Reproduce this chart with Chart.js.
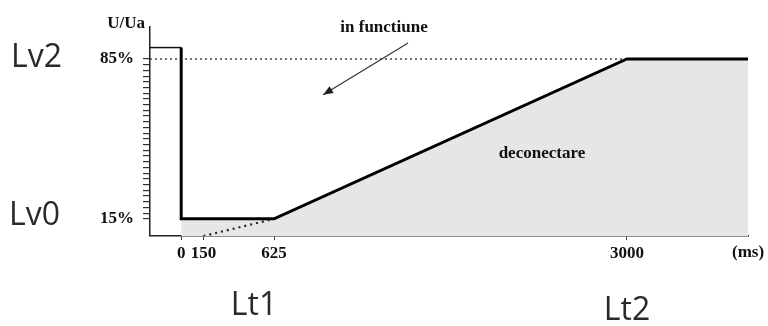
<!DOCTYPE html>
<html>
<head>
<meta charset="utf-8">
<script src="https://cdn.jsdelivr.net/npm/chart.js@4"></script>
<style>
  html, body { margin: 0; padding: 0; background: #fff; }
  #wrap { width: 768px; height: 326px; position: relative; }
</style>
</head>
<body>
<div id="wrap"><canvas id="graph" width="768" height="326"></canvas></div>
<script>
// axis range (ms and % of U/Un)
const xMin = -210, xMax = 3815;
const yMin = 7.5, yMax = 99;

// tick values
const timeTicks = [0, 150, 625, 3000];
const levelTicks = [15, 85];
const levelStep = 2.5;

// voltage before the dip (thin segment from the axis)
const beforeX = [xMin, 0];
const beforeY = [90, 90];

// main characteristic
const curveX = [0, 0, 625, 3000, xMax];
const curveY = [90, 15, 15, 85, 85];

// grey "deconectare" area below the curve
const areaX = [0, 625, 3000, xMax];
const areaY = [15, 15, 85, 85];

// dotted 85% reference
const refX = [xMin, 3000];
const refY = [85, 85];

// dotted extension of the ramp down to the axis
const extX = [150, 625];
const extY = [yMin, 15];

// arrow pointing into the "in functiune" region
const arrowX = [1527, 955];
const arrowY = [92, 69.3];

// text notes in data units
const notes = [
    { text: "in functiune", x: 1365, y: 98.6 },
    { text: "deconectare", x: 2428, y: 43.5 }
];

function pts(xs, ys) {
    return xs.map((x, i) => ({ x: x, y: ys[i] }));
}

const serif = '"Liberation Serif", "DejaVu Serif", serif';

//drawing the labels, arrow head and the Lv/Lt names
const extras = {
    id: 'extras',
    afterDraw(chart) {
        const ctx = chart.ctx;
        const xs = chart.scales.x, ys = chart.scales.y;
        ctx.save();

        // arrow head
        const meta = chart.getDatasetMeta(5);
        const p0 = meta.data[0], p1 = meta.data[1];
        const ang = Math.atan2(p1.y - p0.y, p1.x - p0.x);
        ctx.fillStyle = '#222';
        ctx.beginPath();
        ctx.moveTo(p1.x, p1.y);
        ctx.lineTo(p1.x - 10 * Math.cos(ang) + 4 * Math.sin(ang), p1.y - 10 * Math.sin(ang) - 4 * Math.cos(ang));
        ctx.lineTo(p1.x - 10 * Math.cos(ang) - 4 * Math.sin(ang), p1.y - 10 * Math.sin(ang) + 4 * Math.cos(ang));
        ctx.closePath();
        ctx.fill();

        // notes inside the plot
        ctx.fillStyle = '#111';
        ctx.font = 'bold 17px ' + serif;
        ctx.textAlign = 'center';
        ctx.textBaseline = 'middle';
        notes.forEach(n => {
            ctx.fillText(n.text, xs.getPixelForValue(n.x), ys.getPixelForValue(n.y));
        });

        // axis names
        ctx.textAlign = 'right';
        ctx.fillText('U/Ua', xs.left - 5, ys.top - 3);
        ctx.textAlign = 'left';
        ctx.fillText('(ms)', xs.right - 16, xs.top + 17);

        // level / time names
        ctx.fillStyle = '#2a2a2a';
        ctx.font = '32px "Open Sans", sans-serif';
        ctx.textAlign = 'left';
        ctx.fillText('Lv2', 11, ys.getPixelForValue(levelTicks[1]) - 1);
        ctx.fillText('Lv0', 9, ys.getPixelForValue(levelTicks[0]) - 3);
        ctx.textAlign = 'center';
        ctx.fillText('Lt1', 254, 306);
        ctx.fillText('Lt2', 627, 311);
        ctx.restore();
    }
};

const ctx = document.getElementById('graph').getContext('2d');
new Chart(ctx, {
    type: 'scatter',
    data: {
        datasets: [
            { data: pts(areaX, areaY), showLine: true, fill: 'start', backgroundColor: '#e6e6e6', borderWidth: 0, pointRadius: 0, order: 5 },
            { data: pts(refX, refY), showLine: true, borderColor: '#444', borderWidth: 1.3, borderDash: [2, 3], pointRadius: 0, order: 4 },
            { data: pts(extX, extY), showLine: true, borderColor: '#222', borderWidth: 2.2, borderDash: [2, 4], pointRadius: 0, order: 3 },
            { data: pts(beforeX, beforeY), showLine: true, borderColor: '#111', borderWidth: 1.5, pointRadius: 0, order: 2 },
            { data: pts(curveX, curveY), showLine: true, borderColor: '#000', borderWidth: 3, pointRadius: 0, order: 1 },
            { data: pts(arrowX, arrowY), showLine: true, borderColor: '#333', borderWidth: 1.2, pointRadius: 0, order: 0 }
        ]
    },
    options: {
        responsive: false,
        animation: false,
        layout: { padding: { top: 27, right: 20, left: 0, bottom: 0 } },
        plugins: { legend: { display: false }, tooltip: { enabled: false } },
        elements: { line: { tension: 0 } },
        scales: {
            x: {
                type: 'linear',
                min: xMin,
                max: xMax,
                afterBuildTicks: s => { s.ticks = timeTicks.map(v => ({ value: v })); },
                afterFit: s => { s.height = 90; },
                border: { color: '#222', width: 1.5 },
                grid: { drawOnChartArea: false, drawTicks: true, tickLength: 4, color: '#444' },
                ticks: {
                    autoSkip: false,
                    maxRotation: 0,
                    padding: 3,
                    color: '#111',
                    font: { family: serif, size: 17, weight: 'bold' },
                    callback: v => String(v)
                }
            },
            y: {
                type: 'linear',
                min: yMin,
                max: yMax,
                afterBuildTicks: s => {
                    const list = [];
                    for (let v = levelTicks[0]; v <= levelTicks[1]; v += levelStep) list.push({ value: v });
                    s.ticks = list;
                },
                afterFit: s => { s.width = 150; },
                border: { color: '#222', width: 1.5 },
                grid: { drawOnChartArea: false, drawTicks: true, tickLength: 7, color: '#333', lineWidth: 1.2 },
                ticks: {
                    autoSkip: false,
                    padding: 9,
                    color: '#111',
                    font: { family: serif, size: 17, weight: 'bold' },
                    callback: v => (levelTicks.includes(v) ? v + '%' : '')
                }
            }
        }
    },
    plugins: [extras]
});
</script>
</body>
</html>
